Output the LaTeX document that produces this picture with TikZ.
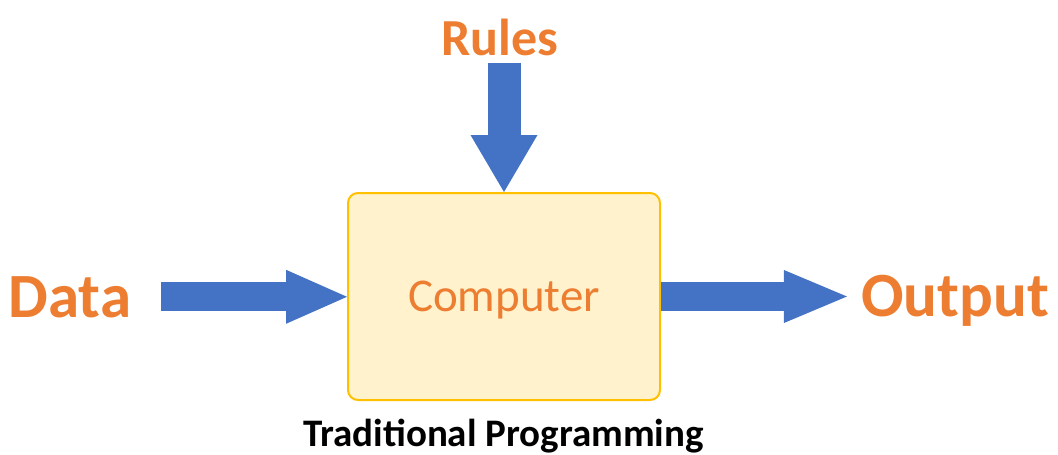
\documentclass[tikz,border=0pt]{standalone}
\usepackage{fontspec}
\setmainfont{Carlito}
\usetikzlibrary{arrows.meta}

\definecolor{progOrange}{HTML}{ED7D31}
\definecolor{progBlue}  {HTML}{4472C4}
\definecolor{progFill}  {HTML}{FFF2CC}
\definecolor{progBorder}{HTML}{FFC000}

\begin{document}
\begin{tikzpicture}[x=1pt, y=-1pt,
    fatarrow/.style n args={3}{draw=progBlue, line width=#1,
      -{Triangle[length=#2, width=#3, line width=0pt]}},
    word/.style={inner sep=0pt, text=progOrange,
      font=\bfseries\fontsize{#1}{#1}\selectfont}]
        \useasboundingbox (0,0) rectangle (1058,455);
        \node[draw=progBorder, fill=progFill, line width=2pt,
              rounded corners=10pt, minimum width=312pt,
              minimum height=207pt, text depth=0pt, text=progOrange,
              font=\fontsize{47}{47}\selectfont]
              (computer) at (504,296.5) {Computer};
        \node[word=52, anchor=base] (rules)  at (499.5,55) {Rules};
        \node[word=63, anchor=base] (data)   at (70,317)   {Data};
        \node[word=63, anchor=base] (output) at (955,316)  {Output};
        \node[inner sep=0pt, anchor=base,
              font=\bfseries\fontsize{39}{39}\selectfont]
              (caption) at (503.5,446) {Traditional Programming};
        \draw[fatarrow={33pt}{57pt}{67pt}, shorten <=7pt]
              (rules.south -| computer.north) -- (computer.north);
        \draw[fatarrow={29pt}{61pt}{54pt}, shorten <=30pt]
              (data.east) -- (data.east -| computer.west);
        \draw[fatarrow={29pt}{63pt}{53pt}, shorten >=14pt]
              (computer.east) -- (computer.east -| output.west);
      \end{tikzpicture}
\end{document}
